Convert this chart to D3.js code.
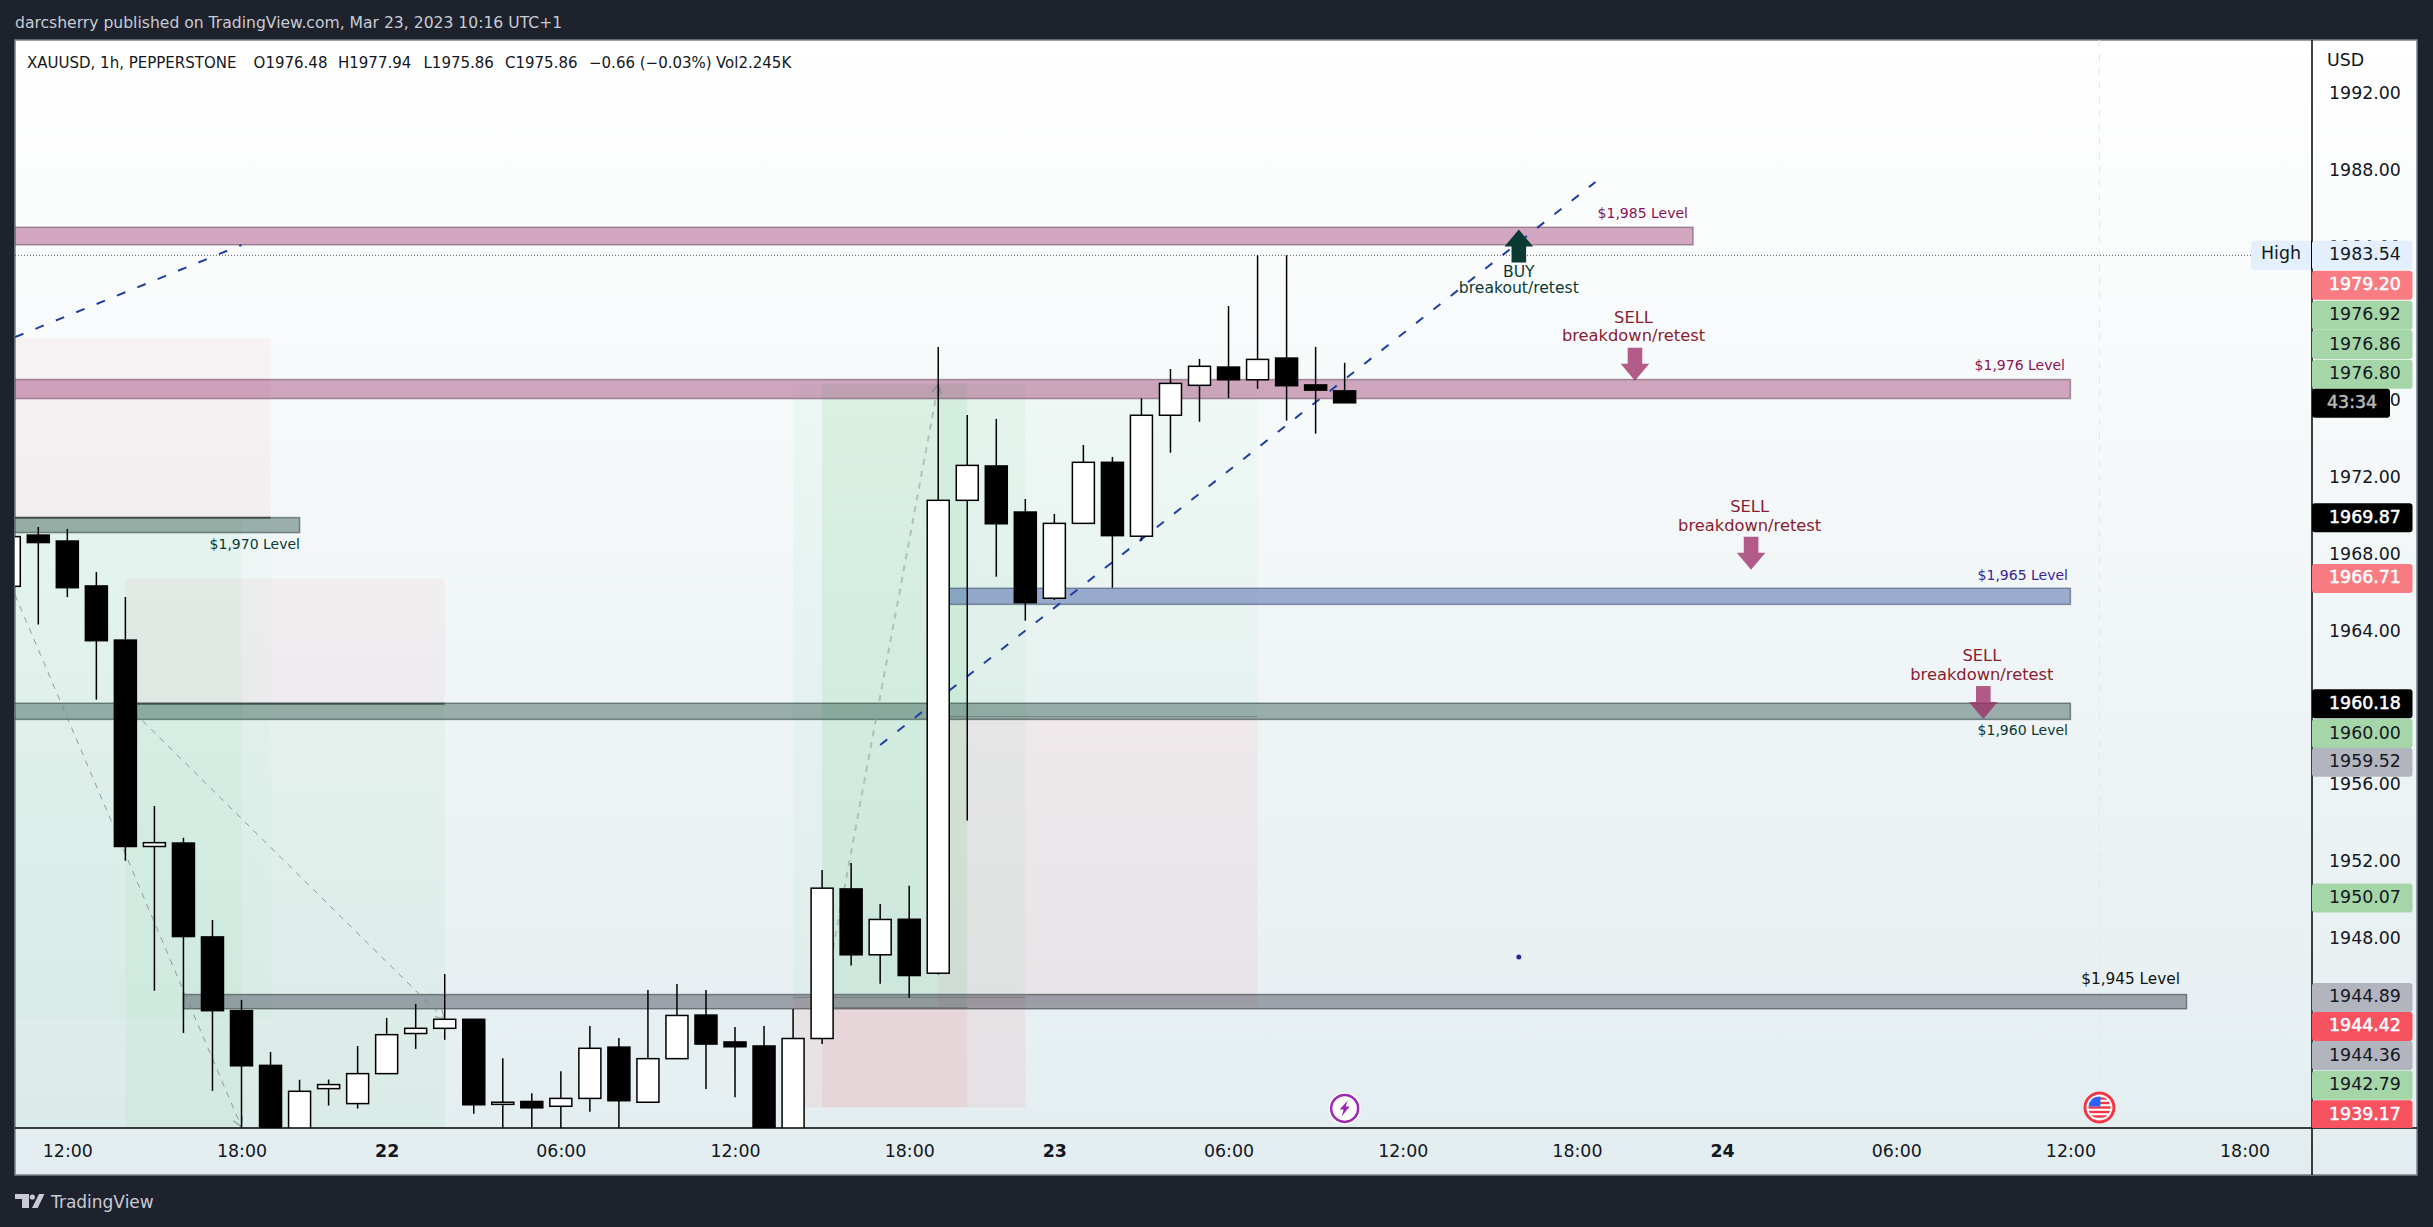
<!DOCTYPE html>
<html lang="en">
<head>
    <meta charset="utf-8">
    <title>XAUUSD 1h</title>
    <style>
        html, body { margin: 0; padding: 0; background: #1e222d; }
        svg { display: block; }
        text { font-family: "DejaVu Sans", sans-serif; }
        .axis text { font-size: 17.4px; fill: #131722; font-family: "DejaVu Sans", sans-serif; }
        .axis .domain { display: none; }
    </style>
</head>
<body>
<script src="https://cdnjs.cloudflare.com/ajax/libs/d3/7.8.5/d3.min.js"></script>
<script>
    // candles, first one sits at slot -1 (cut by the left edge)
    var opens = [1966.30, 1968.97, 1968.66, 1966.32, 1963.50, 1952.75, 1952.93, 1948.04, 1944.20, 1941.35, 1936.50,
        1940.14, 1939.36, 1940.92, 1943.01, 1943.28, 1943.75, 1939.32, 1939.47, 1939.22, 1939.63, 1942.30,
        1939.43, 1941.70, 1943.97, 1942.57, 1942.36, 1937.00, 1942.75, 1950.54, 1947.11, 1948.96, 1946.15,
        1970.78, 1972.57, 1970.17, 1965.68, 1969.58, 1972.76, 1968.91, 1975.21, 1976.77, 1977.72, 1977.06,
        1978.19, 1976.79, 1976.48];
    var highs = [1969.00, 1969.39, 1969.29, 1967.05, 1965.74, 1954.86, 1953.20, 1948.92, 1944.76, 1942.05, 1940.60,
        1940.61, 1942.36, 1943.82, 1944.55, 1946.11, 1943.75, 1941.72, 1939.90, 1941.05, 1943.40, 1942.77,
        1945.27, 1945.59, 1945.27, 1943.35, 1943.40, 1944.29, 1951.53, 1951.89, 1949.76, 1950.70, 1978.77,
        1975.22, 1975.02, 1970.85, 1970.07, 1973.66, 1973.04, 1976.09, 1977.62, 1978.14, 1980.90, 1983.54,
        1983.54, 1978.77, 1977.94];
    var lows = [1966.30, 1964.31, 1965.74, 1960.40, 1952.01, 1945.24, 1943.04, 1940.02, 1937.50, 1936.00, 1936.00,
        1939.26, 1939.10, 1940.92, 1942.21, 1942.68, 1938.83, 1937.00, 1937.50, 1937.50, 1938.93, 1937.50,
        1939.43, 1941.70, 1940.12, 1939.69, 1937.00, 1937.00, 1942.47, 1946.55, 1945.60, 1944.87, 1946.08,
        1954.11, 1966.80, 1964.51, 1965.59, 1969.58, 1966.23, 1968.68, 1973.26, 1974.87, 1976.11, 1976.59,
        1974.93, 1974.25, 1975.86];
    var closes = [1968.89, 1968.58, 1966.23, 1963.47, 1952.75, 1952.95, 1948.06, 1944.20, 1941.33, 1936.50, 1940.00,
        1940.35, 1940.92, 1942.95, 1943.28, 1943.75, 1939.30, 1939.43, 1939.14, 1939.63, 1942.24, 1939.51,
        1941.70, 1943.95, 1942.46, 1942.32, 1937.00, 1942.75, 1950.58, 1947.11, 1948.95, 1946.03, 1970.78,
        1972.60, 1969.56, 1965.45, 1969.58, 1972.76, 1968.94, 1975.21, 1976.87, 1977.76, 1977.06, 1978.12,
        1976.75, 1976.52, 1975.86];
    var firstSlot = -1;

    var timeTicks = [1, 7, 12, 18, 24, 30, 35, 41, 47, 53, 58, 64, 70, 76];
    var timeLabels = ["12:00", "18:00", "22", "06:00", "12:00", "18:00", "23", "06:00", "12:00", "18:00", "24", "06:00", "12:00", "18:00"];
    var dayLabels = ["22", "23", "24"];
    var priceTicks = [1992, 1988, 1984, 1976, 1972, 1968, 1964, 1956, 1952, 1948];

    // slot from, slot to, price top, price bottom
    var levelBands = [
        [-3, 57, 1985.00, 1984.09, "pink"],
        [-3, 70, 1977.07, 1976.08, "pink"],
        [-3, 9, 1969.88, 1969.10, "green"],
        [31, 70, 1966.20, 1965.36, "blue"],
        [-3, 70, 1960.21, 1959.37, "green"],
        [5, 74, 1945.04, 1944.30, "grey"]
    ];

    var bandColours = {
        pink: ["rgba(150,40,100,0.4)", "rgba(90,60,80,0.5)"],
        blue: ["rgba(50,80,160,0.45)", "rgba(50,60,90,0.5)"],
        green: ["rgba(49,89,78,0.45)", "rgba(40,60,60,0.55)"],
        grey: ["rgba(65,69,81,0.45)", "rgba(50,55,60,0.55)"]
    };

    var positionZones = [
        [-3, 8, 1979.20, 1969.87, "rgba(242,54,69,0.045)"],
        [-3, 8, 1969.87, 1943.80, "rgba(60,200,110,0.025)"],
        [-3, 7, 1969.87, 1936.00, "rgba(60,200,110,0.055)"],
        [3, 14, 1966.71, 1960.18, "rgba(242,54,69,0.045)"],
        [3, 14, 1960.18, 1936.00, "rgba(60,200,110,0.06)"],
        [26, 34, 1976.80, 1944.89, "rgba(60,200,110,0.05)"],
        [26, 34, 1944.89, 1939.17, "rgba(242,54,69,0.07)"],
        [27, 32, 1976.86, 1944.36, "rgba(60,190,90,0.1)"],
        [27, 32, 1944.36, 1939.17, "rgba(242,54,69,0.07)"],
        [31, 42, 1976.92, 1959.52, "rgba(60,200,110,0.04)"],
        [31, 42, 1959.52, 1944.42, "rgba(242,54,69,0.06)"]
    ];
    var zoneLines = [
        [-3, 8, 1969.87, "rgba(50,60,60,0.75)", 2],
        [3, 14, 1960.18, "rgba(50,60,60,0.75)", 2],
        [26, 34, 1944.89, "rgba(60,70,70,0.35)", 1],
        [27, 32, 1944.36, "rgba(60,70,70,0.35)", 1],
        [31, 42, 1959.52, "rgba(60,70,70,0.35)", 1]
    ];

    var blueLines = [
        [[-0.8, 1979.28], [7, 1984.08]],
        [[29, 1958.04], [53.64, 1987.36]]
    ];
    var greyLines = [
        [[-0.8, 1965.85], [7, 1938.14]],
        [[3, 1960.18], [14, 1943.75]]
    ];
    var paleLine = [[27, 1944.36], [31, 1976.80]];

    // slot, tip price, direction
    var arrows = [
        [51, 1984.88, "up"],
        [55, 1977.01, "down"],
        [59, 1967.17, "down"],
        [67, 1959.39, "down"]
    ];
    var signalNotes = [
        [51, 1982.62, "BUY", "#0a3a33", 15.6], [51, 1981.81, "breakout/retest", "#0a3a33", 15.6],
        [54.95, 1980.24, "SELL", "#8a1c2f", 16.3], [54.95, 1979.29, "breakdown/retest", "#8a1c2f", 16.3],
        [58.95, 1970.41, "SELL", "#8a1c2f", 16.3], [58.95, 1969.44, "breakdown/retest", "#8a1c2f", 16.3],
        [66.95, 1962.65, "SELL", "#8a1c2f", 16.3], [66.95, 1961.66, "breakdown/retest", "#8a1c2f", 16.3]
    ];
    var levelNotes = [
        [1688, 1985.68, "$1,985 Level", "#8a1254", 14],
        [2065, 1977.79, "$1,976 Level", "#8a1254", 14],
        [2068, 1966.85, "$1,965 Level", "#3a1f9a", 14],
        [300, 1968.45, "$1,970 Level", "#0a3a33", 14],
        [2068, 1958.75, "$1,960 Level", "#0a3a33", 14],
        [2180, 1945.80, "$1,945 Level", "#111111", 15.3]
    ];

    // right axis tags: price, text, fill, text colour
    var priceTags = [
        [1983.54, "1983.54", "#e3effc", "#131722"],
        [1981.98, "1979.20", "#f87c82", "#ffffff"],
        [1980.42, "1976.92", "#a5d6a7", "#131722"],
        [1978.89, "1976.86", "#a5d6a7", "#131722"],
        [1977.34, "1976.80", "#a5d6a7", "#131722"],
        [1969.87, "1969.87", "#000000", "#ffffff"],
        [1966.71, "1966.71", "#f87c82", "#ffffff"],
        [1960.18, "1960.18", "#000000", "#ffffff"],
        [1958.63, "1960.00", "#a5d6a7", "#131722"],
        [1957.14, "1959.52", "#b2b5be", "#131722"],
        [1950.07, "1950.07", "#a5d6a7", "#131722"],
        [1944.89, "1944.89", "#b2b5be", "#131722"],
        [1943.38, "1944.42", "#f7525f", "#ffffff"],
        [1941.86, "1944.36", "#b2b5be", "#131722"],
        [1940.31, "1942.79", "#a5d6a7", "#131722"],
        [1938.78, "1939.17", "#f7525f", "#ffffff"]
    ];
    var countdownPrice = 1975.84;

    var legendParts = [
        [27, "XAUUSD, 1h, PEPPERSTONE"], [253.6, "O1976.48"], [338, "H1977.94"], [423.5, "L1975.86"],
        [505, "C1975.86"], [589, "\u22120.66 (\u22120.03%)"], [716, "Vol2.245K"]
    ];

    var width = 2433, height = 1227;
    var left = 15, top_ = 40, right = 2417, bottom = 1175;
    var plotRight = 2312, plotBottom = 1128;

    var x = d3.scaleLinear().domain([0, 1]).range([38.3, 67.33]);
    var y = d3.scaleLinear().domain([1992, 1948]).range([92.9, 937.7]);

    var svg = d3.select("body").append("svg")
        .attr("width", width)
        .attr("height", height);

    var defs = svg.append("defs");
    var grad = defs.append("linearGradient")
        .attr("id", "panelGrad")
        .attr("x1", 0).attr("y1", 0).attr("x2", 0).attr("y2", 1);
    grad.append("stop").attr("offset", "0%").attr("stop-color", "#ffffff");
    grad.append("stop").attr("offset", "100%").attr("stop-color", "#e3edf0");
    defs.append("clipPath").attr("id", "plotClip").append("rect")
        .attr("x", left).attr("y", top_)
        .attr("width", plotRight - left).attr("height", plotBottom - top_);
    defs.append("clipPath").attr("id", "tagClip").append("rect")
        .attr("x", plotRight).attr("y", top_)
        .attr("width", right - plotRight).attr("height", plotBottom - top_);
    defs.append("clipPath").attr("id", "flagClip").append("circle")
        .attr("cx", x(71)).attr("cy", 1107.5).attr("r", 11);
    defs.append("marker")
        .attr("id", "chevron")
        .attr("viewBox", "-10 -6 12 12")
        .attr("markerUnits", "userSpaceOnUse")
        .attr("markerWidth", 12).attr("markerHeight", 12)
        .attr("orient", "auto")
        .append("path")
        .attr("d", "M-9,-5L0,0L-9,5")
        .attr("fill", "none")
        .attr("stroke", "rgba(120,123,134,0.7)")
        .attr("stroke-width", 1.2);

    svg.append("rect").attr("width", width).attr("height", height).attr("fill", "#1e222d");

    svg.append("rect")
        .attr("x", left).attr("y", top_)
        .attr("width", right - left).attr("height", bottom - top_)
        .attr("fill", "url(#panelGrad)")
        .attr("stroke", "#7c8089")
        .attr("stroke-width", 1.5);

    svg.append("text")
        .attr("x", 15).attr("y", 28)
        .attr("fill", "#c8ccd4")
        .style("font-size", "15.6px")
        .text("darcsherry published on TradingView.com, Mar 23, 2023 10:16 UTC+1");

    var plot = svg.append("g").attr("clip-path", "url(#plotClip)");

    // event line
    plot.append("line")
        .attr("x1", x(71)).attr("x2", x(71))
        .attr("y1", top_).attr("y2", plotBottom)
        .attr("stroke", "#e2e6ea")
        .attr("stroke-width", 1)
        .attr("stroke-dasharray", "7 7");

    plot.selectAll(".zone")
        .data(positionZones)
        .enter().append("rect")
        .attr("class", "zone")
        .attr("x", function (d) { return x(d[0]); })
        .attr("width", function (d) { return x(d[1]) - x(d[0]); })
        .attr("y", function (d) { return y(d[2]); })
        .attr("height", function (d) { return y(d[3]) - y(d[2]); })
        .attr("fill", function (d) { return d[4]; });

    plot.selectAll(".band")
        .data(levelBands)
        .enter().append("rect")
        .attr("class", "band")
        .attr("x", function (d) { return x(d[0]); })
        .attr("width", function (d) { return x(d[1]) - x(d[0]); })
        .attr("y", function (d) { return y(d[2]); })
        .attr("height", function (d) { return y(d[3]) - y(d[2]); })
        .attr("fill", function (d) { return bandColours[d[4]][0]; })
        .attr("stroke", function (d) { return bandColours[d[4]][1]; })
        .attr("stroke-width", 1.5);

    plot.selectAll(".zoneLine")
        .data(zoneLines)
        .enter().append("line")
        .attr("class", "zoneLine")
        .attr("x1", function (d) { return x(d[0]); })
        .attr("x2", function (d) { return x(d[1]); })
        .attr("y1", function (d) { return y(d[2]); })
        .attr("y2", function (d) { return y(d[2]); })
        .attr("stroke", function (d) { return d[3]; })
        .attr("stroke-width", function (d) { return d[4]; });

    var lineGen = d3.line()
        .x(function (d) { return x(d[0]); })
        .y(function (d) { return y(d[1]); });

    plot.selectAll(".greyLine")
        .data(greyLines)
        .enter().append("path")
        .attr("class", "greyLine")
        .attr("d", lineGen)
        .attr("fill", "none")
        .attr("stroke", "rgba(120,123,134,0.75)")
        .attr("stroke-width", 1)
        .attr("stroke-dasharray", "6 6")
        .attr("marker-end", "url(#chevron)");

    plot.append("path")
        .attr("d", lineGen(paleLine))
        .attr("fill", "none")
        .attr("stroke", "rgba(150,150,170,0.55)")
        .attr("stroke-width", 2)
        .attr("stroke-dasharray", "6 6")
        .attr("marker-end", "url(#chevron)");

    plot.selectAll(".blueLine")
        .data(blueLines)
        .enter().append("path")
        .attr("class", "blueLine")
        .attr("d", lineGen)
        .attr("fill", "none")
        .attr("stroke", "#1f3fa3")
        .attr("stroke-width", 2)
        .attr("stroke-dasharray", "9 13");

    // high line
    plot.append("line")
        .attr("x1", left).attr("x2", 2251)
        .attr("y1", y(1983.54)).attr("y2", y(1983.54))
        .attr("stroke", "#555a66")
        .attr("stroke-width", 1)
        .attr("stroke-dasharray", "1 2");

    var candles = plot.selectAll(".candle")
        .data(opens.map(function (o, k) {
            return { slot: k + firstSlot, open: o, high: highs[k], low: lows[k], close: closes[k] };
        }))
        .enter().append("g")
        .attr("class", "candle");

    candles.append("line")
        .attr("x1", function (d) { return x(d.slot); })
        .attr("x2", function (d) { return x(d.slot); })
        .attr("y1", function (d) { return y(d.high); })
        .attr("y2", function (d) { return y(d.low); })
        .attr("stroke", "#000000")
        .attr("stroke-width", 1.5);

    candles.append("rect")
        .attr("x", function (d) { return x(d.slot) - 11; })
        .attr("width", 22)
        .attr("y", function (d) { return y(Math.max(d.open, d.close)); })
        .attr("height", function (d) { return Math.abs(y(d.open) - y(d.close)); })
        .attr("fill", function (d) { return d.close >= d.open ? "#ffffff" : "#000000"; })
        .attr("stroke", "#000000")
        .attr("stroke-width", 1.5);

    plot.selectAll(".arrow")
        .data(arrows)
        .enter().append("path")
        .attr("class", "arrow")
        .attr("d", function (d) {
            var s = d[2] === "up" ? 1 : -1;
            return "M0,0L14.3," + (s * 17) + "L7.3," + (s * 17) + "L7.3," + (s * 33)
                + "L-7.3," + (s * 33) + "L-7.3," + (s * 17) + "L-14.3," + (s * 17) + "Z";
        })
        .attr("transform", function (d) { return "translate(" + x(d[0]) + "," + y(d[1]) + ")"; })
        .attr("fill", function (d) { return d[2] === "up" ? "#0a3a33" : "rgba(156,39,99,0.75)"; });

    plot.selectAll(".signalNote")
        .data(signalNotes)
        .enter().append("text")
        .attr("class", "signalNote")
        .attr("x", function (d) { return x(d[0]); })
        .attr("y", function (d) { return y(d[1]); })
        .attr("text-anchor", "middle")
        .attr("dominant-baseline", "middle")
        .attr("fill", function (d) { return d[3]; })
        .style("font-size", function (d) { return d[4] + "px"; })
        .text(function (d) { return d[2]; });

    plot.selectAll(".levelNote")
        .data(levelNotes)
        .enter().append("text")
        .attr("class", "levelNote")
        .attr("x", function (d) { return d[0]; })
        .attr("y", function (d) { return y(d[1]); })
        .attr("text-anchor", "end")
        .attr("dominant-baseline", "middle")
        .attr("fill", function (d) { return d[3]; })
        .style("font-size", function (d) { return d[4] + "px"; })
        .text(function (d) { return d[2]; });

    // lone dot
    plot.append("circle")
        .attr("cx", x(51)).attr("cy", y(1947))
        .attr("r", 2.5)
        .attr("fill", "#2a2a9a");

    // earnings icon
    var boltX = x(45), boltY = 1108.4;
    plot.append("circle")
        .attr("cx", boltX).attr("cy", boltY).attr("r", 16)
        .attr("fill", "#ffffff");
    plot.append("circle")
        .attr("cx", boltX).attr("cy", boltY).attr("r", 13.5)
        .attr("fill", "none")
        .attr("stroke", "#9c27b0")
        .attr("stroke-width", 2.5);
    plot.append("path")
        .attr("d", "M3,-8L-5,1L-1,1L-3,8L5,-2L1,-2Z")
        .attr("transform", "translate(" + boltX + "," + boltY + ")")
        .attr("fill", "#9c27b0");

    // US flag icon
    var flagX = x(71), flagY = 1107.5;
    plot.append("circle")
        .attr("cx", flagX).attr("cy", flagY).attr("r", 16.5)
        .attr("fill", "#ffffff");
    plot.append("circle")
        .attr("cx", flagX).attr("cy", flagY).attr("r", 14.5)
        .attr("fill", "#ffffff")
        .attr("stroke", "#f23645")
        .attr("stroke-width", 3);
    var flag = plot.append("g").attr("clip-path", "url(#flagClip)");
    flag.selectAll(".stripe")
        .data([-9, -4.5, 0, 4.5, 9])
        .enter().append("rect")
        .attr("class", "stripe")
        .attr("x", flagX - 12).attr("width", 24)
        .attr("y", function (d) { return flagY + d - 1.2; })
        .attr("height", 2.4)
        .attr("fill", "#f23645");
    flag.append("rect")
        .attr("x", flagX - 12).attr("y", flagY - 12)
        .attr("width", 13).attr("height", 11)
        .attr("fill", "#2962ff");

    // separators
    svg.append("line")
        .attr("x1", left).attr("x2", right)
        .attr("y1", plotBottom).attr("y2", plotBottom)
        .attr("stroke", "#000000").attr("stroke-width", 1.5);
    svg.append("line")
        .attr("x1", plotRight).attr("x2", plotRight)
        .attr("y1", top_).attr("y2", bottom)
        .attr("stroke", "#000000").attr("stroke-width", 1.5);

    var timeAxis = svg.append("g")
        .attr("class", "axis")
        .attr("transform", "translate(0," + plotBottom + ")")
        .call(d3.axisBottom(x)
            .tickValues(timeTicks)
            .tickSize(0)
            .tickPadding(17)
            .tickFormat(function (d, i) { return timeLabels[i]; }));
    timeAxis.selectAll("text")
        .style("font-weight", function (d, i) { return dayLabels.indexOf(timeLabels[i]) >= 0 ? "bold" : "normal"; });

    svg.append("g")
        .attr("class", "axis")
        .attr("transform", "translate(" + plotRight + ",0)")
        .call(d3.axisRight(y)
            .tickValues(priceTicks)
            .tickSize(0)
            .tickPadding(17)
            .tickFormat(d3.format(".2f")));

    svg.append("text")
        .attr("x", 2327).attr("y", 66)
        .attr("fill", "#131722")
        .style("font-size", "17.4px")
        .text("USD");

    // High tag
    svg.append("rect")
        .attr("x", 2251).attr("y", y(1983.54) - 14.5)
        .attr("width", 61).attr("height", 29)
        .attr("rx", 3)
        .attr("fill", "#e3effc");
    svg.append("text")
        .attr("x", 2281).attr("y", y(1983.54) - 1)
        .attr("text-anchor", "middle")
        .attr("dominant-baseline", "middle")
        .attr("fill", "#131722")
        .style("font-size", "17.4px")
        .text("High");

    var tagLayer = svg.append("g").attr("clip-path", "url(#tagClip)");
    var tags = tagLayer.selectAll(".tag")
        .data(priceTags)
        .enter().append("g")
        .attr("class", "tag");
    tags.append("rect")
        .attr("x", plotRight)
        .attr("y", function (d) { return y(d[0]) - 14.5; })
        .attr("width", 100.5)
        .attr("height", 29)
        .attr("rx", 3)
        .attr("fill", function (d) { return d[2]; });
    tags.append("text")
        .attr("x", 2329)
        .attr("y", function (d) { return y(d[0]); })
        .attr("dominant-baseline", "middle")
        .attr("fill", function (d) { return d[3]; })
        .attr("stroke", function (d) { return d[3] === "#ffffff" ? "#ffffff" : "none"; })
        .attr("stroke-width", 0.5)
        .style("font-size", "17.4px")
        .text(function (d) { return d[1]; });

    // axis line shows through the High tag
    svg.append("line")
        .attr("x1", plotRight - 0.5).attr("x2", plotRight - 0.5)
        .attr("y1", y(1983.54) - 14.5).attr("y2", y(1983.54) + 14.5)
        .attr("stroke", "#000000").attr("stroke-width", 1);

    svg.append("rect")
        .attr("x", plotRight).attr("y", y(countdownPrice) - 14.5)
        .attr("width", 78).attr("height", 29)
        .attr("rx", 3)
        .attr("fill", "#000000");
    svg.append("text")
        .attr("x", 2327).attr("y", y(countdownPrice))
        .attr("dominant-baseline", "middle")
        .attr("fill", "#b9b9b9")
        .attr("stroke", "#b9b9b9")
        .attr("stroke-width", 0.5)
        .style("font-size", "17.4px")
        .text("43:34");

    svg.selectAll(".legendPart")
        .data(legendParts)
        .enter().append("text")
        .attr("class", "legendPart")
        .attr("x", function (d) { return d[0]; })
        .attr("y", 68)
        .attr("fill", "#131722")
        .style("font-size", "15px")
        .text(function (d) { return d[1]; });

    // footer logo
    var logo = svg.append("g").attr("fill", "#c8cbd3");
    logo.append("path").attr("d", "M15,1194H29V1208H22V1199H15Z");
    logo.append("circle").attr("cx", 32.3).attr("cy", 1197).attr("r", 2.6);
    logo.append("path").attr("d", "M39,1194H44.5L37.7,1208H32Z");
    logo.append("text")
        .attr("x", 51).attr("y", 1208)
        .style("font-size", "17px")
        .text("TradingView");
</script>
</body>
</html>
